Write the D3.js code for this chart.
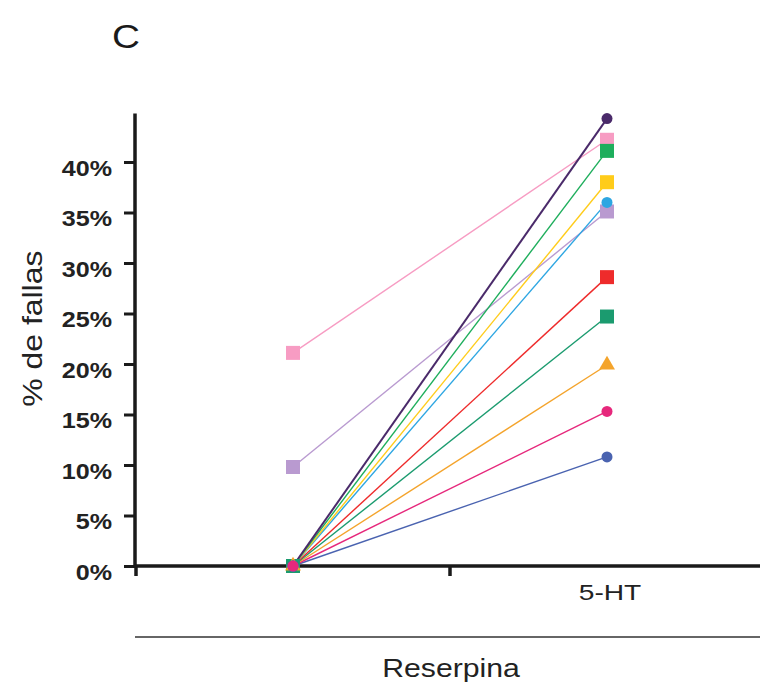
<!DOCTYPE html>
<html>
<head>
<meta charset="utf-8">
<script src="https://cdn.jsdelivr.net/npm/d3@7"></script>
<style>
  html, body { margin: 0; padding: 0; background: #fff; }
  svg { display: block; font-family: "Liberation Sans", Arial, sans-serif; }
</style>
</head>
<body>
<svg id="chart" width="760" height="689"></svg>
<script>
// Conditions on the x axis (the first one has no printed label)
const conditions = ["Reserpina", "5-HT"];
const conditionLabels = ["", "5-HT"];

// Percentage of failures per subject: before (Reserpina) and after 5-HT
const subjects   = ["s1", "s2", "s3", "s4", "s5", "s6", "s7", "s8", "s9", "s10", "s11"];
const beforeVals = [0, 21.1, 0, 0, 0, 9.8, 0, 0, 0, 0, 0];
const afterVals  = [44.3, 42.2, 41.1, 38.0, 36.0, 35.1, 28.6, 24.7, 19.9, 15.3, 10.8];
const colors     = ["#4a2a6a", "#f79cc3", "#1eae5c", "#ffcc1a", "#2da6e2", "#b99ad0",
                    "#ee2b2b", "#1b9b6f", "#f4a42c", "#e6287c", "#4a63b0"];
const shapes     = ["circle", "square", "square", "square", "circle", "square",
                    "square", "square", "triangle", "circle", "circle"];

const yTicks = [0, 5, 10, 15, 20, 25, 30, 35, 40];

const svg = d3.select("#chart");
const WIDE = 1.14; // horizontal widening of the lettering

const x = d3.scaleBand().domain(conditions).range([136, 764]);
const y = d3.scaleLinear().domain([0, 40]).range([566, 162]);

// helper: text widened along its reading direction, anchored at (px, py)
function wideText(parent, px, py, str, size, anchor, rotate, wide) {
  return parent.append("text")
    .attr("transform", `translate(${px},${py})${rotate ? " rotate(" + rotate + ")" : ""} scale(${wide || WIDE},1)`)
    .attr("text-anchor", anchor).attr("font-size", size).attr("fill", "#222")
    .text(str);
}

// Panel letter
wideText(svg, 112, 48, "C", 34, "start").attr("fill", "#1a1a1a");

// Y axis
const yAxis = svg.append("g").attr("transform", "translate(135,0)")
  .call(d3.axisLeft(y).tickValues(yTicks).tickSize(11).tickPadding(6)
        .tickFormat(d => d + "%"));
yAxis.select(".domain").remove();
yAxis.selectAll(".tick line").attr("stroke", "#1a1a1a").attr("stroke-width", 3);
yAxis.selectAll(".tick text").each(function () {
  d3.select(this).attr("x", null).attr("dy", null)
    .attr("transform", `translate(-23,13) scale(${WIDE},1)`)
    .attr("font-size", 22).attr("font-weight", "bold").attr("fill", "#222")
    .attr("font-family", "Liberation Sans, Arial, sans-serif");
});
svg.append("line").attr("x1", 135).attr("x2", 135)
  .attr("y1", y(44.8)).attr("y2", y(0) + 1.5)
  .attr("stroke", "#1a1a1a").attr("stroke-width", 3.5);

// Y axis title
wideText(svg, 42, y(23.5), "% de fallas", 28, "middle", -90);

// X axis with ticks at the band boundaries
const xAxis = svg.append("g").attr("transform", `translate(0,${y(0)})`);
xAxis.append("line").attr("x1", 135).attr("x2", 760)
  .attr("stroke", "#1a1a1a").attr("stroke-width", 3.5);
conditions.forEach(c => {
  xAxis.append("line").attr("x1", x(c)).attr("x2", x(c))
    .attr("y1", 0).attr("y2", 10)
    .attr("stroke", "#1a1a1a").attr("stroke-width", 3.5);
});
conditions.forEach((c, i) => {
  wideText(xAxis, x(c) + x.bandwidth() / 2 + 3, 34, conditionLabels[i], 22, "middle", 0, 1.28);
});

// Group bracket and label
svg.append("line").attr("x1", 135).attr("x2", 760)
  .attr("y1", 637).attr("y2", 637).attr("stroke", "#333").attr("stroke-width", 1.5);
wideText(svg, 451, 677, "Reserpina", 26.5, "middle");

// Paired lines and markers
const cx = c => x(c) + x.bandwidth() / 2;
const data = subjects.map((s, i) => ({
  id: s, vals: [beforeVals[i], afterVals[i]], color: colors[i], shape: shapes[i]
}));

const line = d3.line().x((d, i) => cx(conditions[i])).y(d => y(d));

svg.append("g").selectAll("path").data(data.slice().reverse()).join("path")
  .attr("d", d => line(d.vals))
  .attr("fill", "none").attr("stroke", d => d.color)
  .attr("stroke-width", d => d.id === "s1" ? 2 : 1.4);

const symbolFor = s => s === "square" ? d3.symbolSquare
  : s === "triangle" ? d3.symbolTriangle : d3.symbolCircle;
const sizeFor = s => s === "square" ? 196 : s === "triangle" ? 110 : 95;

// stacking: squares underneath, then triangles, then circles; the magenta
// circle ends up on top of the pile at the zero baseline
const layer = d => d.shape === "square" ? 0 : d.shape === "triangle" ? 1 : (d.id === "s10" ? 3 : 2);
const markers = [];
data.forEach(d => d.vals.forEach((v, i) => markers.push({ d, v, i })));
markers.sort((a, b) => layer(a.d) - layer(b.d));

svg.append("g").selectAll("path").data(markers).join("path")
  .attr("transform", m => `translate(${cx(conditions[m.i])},${y(m.v)})`)
  .attr("d", m => d3.symbol(symbolFor(m.d.shape), sizeFor(m.d.shape))())
  .attr("fill", m => m.d.color);
</script>
</body>
</html>
